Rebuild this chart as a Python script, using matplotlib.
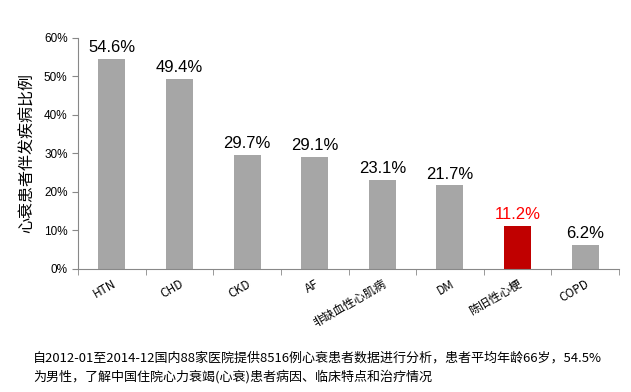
import matplotlib
matplotlib.use("Agg")
import matplotlib.pyplot as plt
from matplotlib.ticker import PercentFormatter

plt.rcParams['font.family'] = ['Noto Sans CJK SC', 'DejaVu Sans']

categories = ["HTN", "CHD", "CKD", "AF", "非缺血性心肌病", "DM", "陈旧性心梗", "COPD"]
values = [54.6, 49.4, 29.7, 29.1, 23.1, 21.7, 11.2, 6.2]
highlight = "陈旧性心梗"
y_ticks = [0, 10, 20, 30, 40, 50, 60]
ylabel = "心衰患者伴发疾病比例"
footnote = ("自2012-01至2014-12国内88家医院提供8516例心衰患者数据进行分析，患者平均年龄66岁，54.5%\n"
            "为男性，了解中国住院心力衰竭(心衰)患者病因、临床特点和治疗情况")

gray = "#a6a6a6"
red = "#c00000"
red_text = "#ff0000"

fig = plt.figure(figsize=(6.31, 3.92), dpi=100)
ax = fig.add_axes([0.1236, 0.3138, 0.8574, 0.5893])

colors = [red if c == highlight else gray for c in categories]
x = list(range(len(categories)))
ax.bar(x, values, width=0.4, color=colors)
for xi, v, c in zip(x, values, categories):
    ax.text(xi, v + 1.0, f"{v:.1f}%", ha="center", va="bottom", fontsize=12,
            color=(red_text if c == highlight else "black"), family=['Liberation Sans', 'DejaVu Sans'])

ax.set_xlim(-0.5, len(categories) - 0.5)
ax.set_ylim(0, 60)
ax.set_yticks(y_ticks)
ax.yaxis.set_major_formatter(PercentFormatter(decimals=0))
ax.set_xticks(x)
ax.set_xticklabels(categories, rotation=30, ha="right", rotation_mode="anchor", fontsize=8.5)
ax.set_xticks([i + 0.5 for i in range(-1, len(categories))], minor=True)
ax.tick_params(axis="x", which="major", length=0, pad=6)
ax.tick_params(axis="x", which="minor", length=4, color="#888888", direction="out")
ax.tick_params(axis="y", length=4, color="#888888", labelsize=8.5, direction="out")
for lab in ax.get_yticklabels():
    lab.set_family(['Liberation Sans', 'DejaVu Sans'])
for s in ["top", "right"]:
    ax.spines[s].set_visible(False)
for s in ["left", "bottom"]:
    ax.spines[s].set_color("#888888")
ax.set_ylabel(ylabel, fontsize=11.5, labelpad=6)

fig.text(0.052, 0.022, footnote, fontsize=9.4, ha="left", va="bottom", linespacing=1.45)

fig.savefig("out.png", dpi=100)
